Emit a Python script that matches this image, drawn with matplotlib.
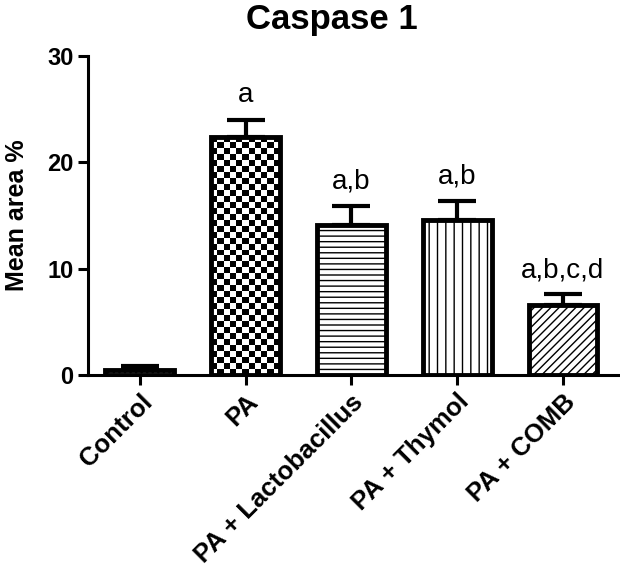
import numpy as np
import matplotlib
matplotlib.use("Agg")
import matplotlib.pyplot as plt

plt.rcParams["font.family"] = ["Liberation Sans", "DejaVu Sans"]
plt.rcParams["hatch.linewidth"] = 1.0

groups = ["Control", "PA", "PA + Lactobacillus", "PA + Thymol", "PA + COMB"]
means = [0.5, 22.4, 14.1, 14.6, 6.6]
sems = [0.4, 1.6, 1.8, 1.8, 1.0]
letters = ["", "a", "a,b", "a,b", "a,b,c,d"]
hatches = ["...", None, "---", "||", "////"]

fig = plt.figure(figsize=(6.2, 5.71), dpi=100)
ax = fig.add_axes([0.142, 0.343, 0.858, 0.5595])

x = np.arange(len(groups))
ax.errorbar(x, means, yerr=[np.zeros(len(sems)), sems], fmt="none",
            ecolor="black", elinewidth=3, capsize=14, capthick=3, zorder=1)
bars = ax.bar(x, means, width=0.65, color="white", edgecolor="black",
              linewidth=0, zorder=2)
for b, h in zip(bars, hatches):
    if h:
        b.set_hatch(h)
# outlines on top of the fills
ax.bar(x, means, width=0.65, color="none", edgecolor="black",
       linewidth=3.5, zorder=3)

xlim = (-0.49, 4.54)
ax.set_xlim(*xlim)
ax.set_ylim(0, 30)

# checkerboard fill for the PA bar, clipped to the bar
pa = bars[1]
fig.canvas.draw()
x0, y0 = ax.transData.transform((pa.get_x(), 0))
x1, y1 = ax.transData.transform((pa.get_x() + pa.get_width(), pa.get_height()))
nx = max(2, int(round((x1 - x0) / 6.0)))
ny = max(2, int(round((y1 - y0) / 6.0)))
board = (np.add.outer(np.arange(ny), np.arange(nx)) % 2).astype(float)
im = ax.imshow(board, cmap="gray", vmin=0, vmax=1, interpolation="nearest",
               extent=(pa.get_x(), pa.get_x() + pa.get_width(), 0, pa.get_height()),
               aspect="auto", zorder=2.5)
im.set_clip_path(pa)
ax.set_xlim(*xlim)
ax.set_ylim(0, 30)

for xi, m, s, lab in zip(x, means, sems, letters):
    if lab:
        ax.annotate(lab, (xi, m + s), xytext=(0, 8), textcoords="offset points",
                    ha="center", va="bottom", fontsize=20)

ax.spines["top"].set_visible(False)
ax.spines["right"].set_visible(False)
ax.spines["left"].set_linewidth(2.2)
ax.spines["bottom"].set_linewidth(2.2)
ax.set_yticks([0, 10, 20, 30])
ax.set_xticks(x)
ax.set_xticklabels(groups, rotation=45, ha="right", rotation_mode="anchor",
                   fontsize=18.5, fontweight="bold")
ax.tick_params(axis="both", width=2.2, length=7)
ax.tick_params(axis="y", labelsize=17)
for t in ax.get_yticklabels():
    t.set_fontweight("bold")
ax.set_ylabel("Mean area %", fontsize=18, fontweight="bold", labelpad=13)
fig.text(0.535, 0.966, "Caspase 1", ha="center", va="center",
         fontsize=25, fontweight="bold")

fig.savefig("out.png", dpi=100)
